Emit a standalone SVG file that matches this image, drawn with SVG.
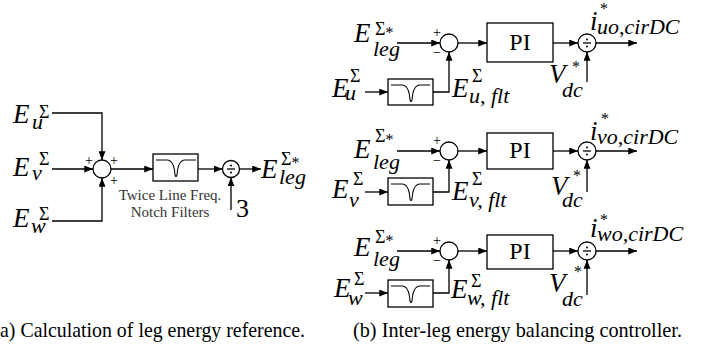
<svg xmlns="http://www.w3.org/2000/svg" width="710" height="351" viewBox="0 0 710 351">
<style>
.ln{fill:none;stroke:#000;stroke-width:1.3}
.ar{fill:none;stroke:#000;stroke-width:1.3;marker-end:url(#arr)}
.bx{fill:#fff;stroke:#000;stroke-width:1.3}
.nt{fill:none;stroke:#000;stroke-width:1.1}
.dot{fill:#000}
text{font-family:"Liberation Serif","Times New Roman",serif;fill:#000}
.E{font-size:27px;font-style:italic}
.S{font-size:18px;font-style:normal}
.st{font-size:16px;font-style:normal}
.sb{font-size:22px;font-style:italic}
.sg{font-size:14px}
.pi{font-size:24px}
.cap{font-size:21px}
.note{font-size:15px;fill:#333}
</style>
<defs>
<marker id="arr" viewBox="0 0 10 8" refX="10" refY="4" markerWidth="9" markerHeight="7" markerUnits="userSpaceOnUse" orient="auto">
<path d="M0,0 L10,4 L0,8 z" fill="#000"/>
</marker>
</defs>

<!-- ===== (a) ===== -->
<g id="a-in-u"><text><tspan class="E" x="13" y="123">E</tspan><tspan class="S" x="39" y="118">Σ</tspan><tspan class="sb" x="32" y="129">u</tspan></text></g>
<g id="a-in-v"><text><tspan class="E" x="13" y="176">E</tspan><tspan class="S" x="39" y="165">Σ</tspan><tspan class="sb" x="32" y="180">v</tspan></text></g>
<g id="a-in-w"><text><tspan class="E" x="13" y="227">E</tspan><tspan class="S" x="39" y="220">Σ</tspan><tspan class="sb" x="31" y="233">w</tspan></text></g>
<g id="a-sum"><circle class="bx" cx="102" cy="169" r="9"/>
<text class="sg" x="89" y="165" text-anchor="middle">+</text>
<text class="sg" x="114" y="165" text-anchor="middle">+</text>
<text class="sg" x="114" y="185" text-anchor="middle">+</text></g>
<g id="a-notch"><rect class="bx" x="153" y="154" width="45" height="27"/>
<path class="nt" d="M156,160 H167 Q174,160 175,175 Q176,178 177,175 Q178,160 185,160 H196"/>
<text class="note" x="170" y="200" text-anchor="middle">Twice Line Freq.</text>
<text class="note" x="170" y="217" text-anchor="middle">Notch Filters</text></g>
<g id="a-div"><circle class="bx" cx="231" cy="169" r="8.5"/>
<line class="ln" x1="227" y1="169" x2="235" y2="169"/><circle class="dot" cx="231" cy="165.5" r="1"/><circle class="dot" cx="231" cy="172.5" r="1"/></g>
<g id="a-three"><text x="236" y="217" style="font-size:26px">3</text></g>
<g id="a-out"><text><tspan class="E" x="261" y="178">E</tspan><tspan class="S" x="281" y="165">Σ</tspan><tspan class="st" dy="3">*</tspan><tspan class="sb" x="279" y="184">leg</tspan></text></g>

<!-- ===== (b) rows ===== -->
<g id="b1-eleg"><text><tspan class="E" x="354" y="42">E</tspan><tspan class="S" x="375" y="35">Σ</tspan><tspan class="st" dy="3">*</tspan><tspan class="sb" x="373" y="56">leg</tspan></text></g>
<g id="b1-eu"><text><tspan class="E" x="332" y="97">E</tspan><tspan class="S" x="350" y="82">Σ</tspan><tspan class="sb" x="345" y="100">u</tspan></text></g>
<g id="b1-notch"><rect class="bx" x="388" y="79" width="45" height="26"/><path class="nt" d="M391,85 H402 Q409,85 410,100 Q411,103 412,100 Q413,85 420,85 H430"/></g>
<g id="b1-eflt"><text><tspan class="E" x="452" y="97">E</tspan><tspan class="S" x="472" y="82">Σ</tspan><tspan class="sb" x="469" y="103">u, flt</tspan></text></g>
<g id="b1-sum"><circle class="bx" cx="449" cy="43" r="9"/><text class="sg" x="437" y="37" text-anchor="middle">+</text><text class="sg" x="437" y="57" text-anchor="middle">−</text></g>
<g id="b1-pi"><rect class="bx" x="487" y="23" width="66" height="39"/><text class="pi" x="520" y="50" text-anchor="middle">PI</text></g>
<g id="b1-div"><circle class="bx" cx="587" cy="43" r="9"/><line class="ln" x1="583" y1="43" x2="591" y2="43"/><circle class="dot" cx="587" cy="39.5" r="1"/><circle class="dot" cx="587" cy="46.5" r="1"/></g>
<g id="b1-vdc"><text><tspan class="E" x="549" y="83">V</tspan><tspan class="st" x="572" y="72">*</tspan><tspan class="sb" x="562" y="97">dc</tspan></text></g>
<g id="b1-iout"><text><tspan class="E" x="590" y="30">i</tspan><tspan class="st" x="600" y="14">*</tspan><tspan class="sb" x="597" y="34">uo,cirDC</tspan></text></g>

<g id="b2-eleg"><text><tspan class="E" x="354" y="158">E</tspan><tspan class="S" x="375" y="142">Σ</tspan><tspan class="st" dy="3">*</tspan><tspan class="sb" x="373" y="169">leg</tspan></text></g>
<g id="b2-ev"><text><tspan class="E" x="332" y="198">E</tspan><tspan class="S" x="353" y="185">Σ</tspan><tspan class="sb" x="349" y="207">v</tspan></text></g>
<g id="b2-notch"><rect class="bx" x="388" y="178" width="45" height="27"/><path class="nt" d="M391,184 H402 Q409,184 410,199 Q411,202 412,199 Q413,184 420,184 H430"/></g>
<g id="b2-eflt"><text><tspan class="E" x="452" y="200">E</tspan><tspan class="S" x="472" y="185">Σ</tspan><tspan class="sb" x="469" y="207">v, flt</tspan></text></g>
<g id="b2-sum"><circle class="bx" cx="449" cy="151" r="9"/><text class="sg" x="437" y="145" text-anchor="middle">+</text><text class="sg" x="437" y="165" text-anchor="middle">−</text></g>
<g id="b2-pi"><rect class="bx" x="487" y="133" width="66" height="36"/><text class="pi" x="520" y="158" text-anchor="middle">PI</text></g>
<g id="b2-div"><circle class="bx" cx="587" cy="151" r="9"/><line class="ln" x1="583" y1="151" x2="591" y2="151"/><circle class="dot" cx="587" cy="147.5" r="1"/><circle class="dot" cx="587" cy="154.5" r="1"/></g>
<g id="b2-vdc"><text><tspan class="E" x="551" y="195">V</tspan><tspan class="st" x="573" y="181">*</tspan><tspan class="sb" x="562" y="207">dc</tspan></text></g>
<g id="b2-iout"><text><tspan class="E" x="590" y="140">i</tspan><tspan class="st" x="601" y="124">*</tspan><tspan class="sb" x="597" y="144">vo,cirDC</tspan></text></g>

<g id="b3-eleg"><text><tspan class="E" x="354" y="256">E</tspan><tspan class="S" x="375" y="243">Σ</tspan><tspan class="st" dy="3">*</tspan><tspan class="sb" x="373" y="266">leg</tspan></text></g>
<g id="b3-ew"><text><tspan class="E" x="334" y="297">E</tspan><tspan class="S" x="354" y="285">Σ</tspan><tspan class="sb" x="348" y="305">w</tspan></text></g>
<g id="b3-notch"><rect class="bx" x="388" y="280" width="45" height="27"/><path class="nt" d="M391,286 H402 Q409,286 410,301 Q411,304 412,301 Q413,286 420,286 H430"/></g>
<g id="b3-eflt"><text><tspan class="E" x="451" y="298">E</tspan><tspan class="S" x="471" y="287">Σ</tspan><tspan class="sb" x="467" y="305">w, flt</tspan></text></g>
<g id="b3-sum"><circle class="bx" cx="449" cy="251" r="9"/><text class="sg" x="437" y="245" text-anchor="middle">+</text><text class="sg" x="437" y="265" text-anchor="middle">−</text></g>
<g id="b3-pi"><rect class="bx" x="487" y="235" width="66" height="34"/><text class="pi" x="520" y="259" text-anchor="middle">PI</text></g>
<g id="b3-div"><circle class="bx" cx="587" cy="251" r="9"/><line class="ln" x1="583" y1="251" x2="591" y2="251"/><circle class="dot" cx="587" cy="247.5" r="1"/><circle class="dot" cx="587" cy="254.5" r="1"/></g>
<g id="b3-vdc"><text><tspan class="E" x="549" y="292">V</tspan><tspan class="st" x="574" y="277">*</tspan><tspan class="sb" x="562" y="306">dc</tspan></text></g>
<g id="b3-iout"><text><tspan class="E" x="590" y="237">i</tspan><tspan class="st" x="600" y="225">*</tspan><tspan class="sb" x="597" y="241">wo,cirDC</tspan></text></g>

<!-- connectors -->
<g id="connectors">
<polyline class="ar" points="52,113 102,113 102,160"/>
<line class="ar" x1="52" y1="169" x2="93" y2="169"/>
<polyline class="ar" points="52,221 102,221 102,178"/>
<line class="ar" x1="111" y1="169" x2="153" y2="169"/>
<line class="ar" x1="198" y1="169" x2="222.5" y2="169"/>
<line class="ar" x1="231" y1="210" x2="231" y2="177.5"/>
<line class="ar" x1="239.5" y1="169" x2="261" y2="169"/>

<line class="ar" x1="397" y1="43" x2="440" y2="43"/>
<line class="ar" x1="365" y1="92" x2="388" y2="92"/>
<polyline class="ar" points="433,92 449,92 449,52"/>
<line class="ar" x1="458" y1="43" x2="487" y2="43"/>
<line class="ar" x1="553" y1="43" x2="578" y2="43"/>
<line class="ar" x1="587" y1="82" x2="587" y2="52"/>
<line class="ar" x1="596" y1="43" x2="637" y2="43"/>

<line class="ar" x1="397" y1="151" x2="440" y2="151"/>
<line class="ar" x1="365" y1="192" x2="388" y2="192"/>
<polyline class="ar" points="433,192 449,192 449,160"/>
<line class="ar" x1="458" y1="151" x2="487" y2="151"/>
<line class="ar" x1="553" y1="151" x2="578" y2="151"/>
<line class="ar" x1="587" y1="192" x2="587" y2="160"/>
<line class="ar" x1="596" y1="151" x2="637" y2="151"/>

<line class="ar" x1="397" y1="251" x2="440" y2="251"/>
<line class="ar" x1="365" y1="293" x2="388" y2="293"/>
<polyline class="ar" points="433,293 449,293 449,260"/>
<line class="ar" x1="458" y1="251" x2="487" y2="251"/>
<line class="ar" x1="553" y1="251" x2="578" y2="251"/>
<line class="ar" x1="587" y1="295" x2="587" y2="260"/>
<line class="ar" x1="596" y1="251" x2="637" y2="251"/>
</g>

<g id="captions">
<text class="cap" x="0" y="337" textLength="305" lengthAdjust="spacingAndGlyphs">a) Calculation of leg energy reference.</text>
<text class="cap" x="353" y="337" textLength="329" lengthAdjust="spacingAndGlyphs">(b) Inter-leg energy balancing controller.</text>
</g>
</svg>
